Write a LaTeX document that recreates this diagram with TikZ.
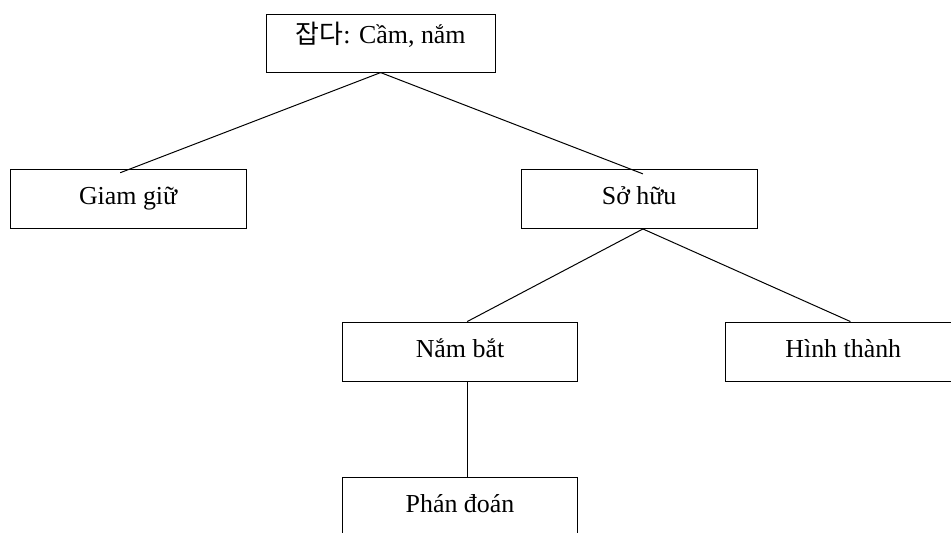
\documentclass[tikz,border=0pt]{standalone}
\usepackage{fontspec}
\setmainfont{Liberation Serif}
\newfontfamily\krfont{Noto Sans CJK KR}
\usetikzlibrary{positioning}

\begin{document}
\begin{tikzpicture}[
  font=\fontsize{19.5}{23}\selectfont,
  box/.style={
    draw, line width=0.75pt, inner sep=0pt, align=center,
    minimum width=62.4mm, text height=9.26mm, text depth=6.35mm},
  rootbox/.style={box, minimum width=60.6mm,
    text height=7.67mm, text depth=7.67mm},
  link/.style={line width=0.75pt},
]
\useasboundingbox (-100.7mm,11.4mm) rectangle (150.9mm,-129.4mm);

% ---------------- nodes ----------------
\node[rootbox] (root) at (0,0) {{\krfont 잡다}: Cầm, nắm};

\node[box, below=25.5mm of root, xshift=-66.8mm] (giam) {Giam giữ};
\node[box, below=25.5mm of root, xshift=68.4mm]  (sohuu) {Sở hữu};

\node[box, below=24.5mm of sohuu, xshift=-47.4mm] (nambat) {Nắm bắt};
\node[box, below=24.5mm of sohuu, xshift=54mm]    (hinhthanh) {Hình thành};

\node[box, below=25.3mm of nambat] (phandoan) {Phán đoán};

% ---------------- connectors ----------------
\draw[link] (root.south) -- ([xshift=-2.1mm,yshift=-1mm]giam.north);
\draw[link] (root.south) -- ([xshift=1mm,yshift=-1.3mm]sohuu.north);
\draw[link] ([xshift=1mm]sohuu.south) -- ([xshift=1.9mm]nambat.north);
\draw[link] ([xshift=1mm]sohuu.south) -- ([xshift=1.9mm]hinhthanh.north);
\draw[link] ([xshift=1.9mm]nambat.south) -- ([xshift=1.9mm]phandoan.north);
\end{tikzpicture}
\end{document}
